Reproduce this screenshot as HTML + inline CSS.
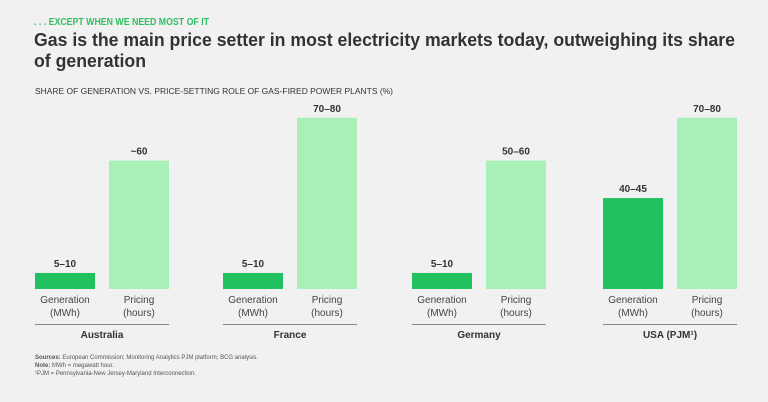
<!DOCTYPE html>
<html><head><meta charset="utf-8"><style>
html,body{margin:0;padding:0;background:#f2f1f1;}
svg{display:block;font-family:"Liberation Sans",sans-serif;}
</style></head><body>
<svg id="chart" width="768" height="402" viewBox="0 0 768 402" xmlns="http://www.w3.org/2000/svg">
<rect width="768" height="402" fill="#f2f1f1"/>
<text x="34" y="25" font-size="10" font-weight="bold" fill="#2fbf62" textLength="175" lengthAdjust="spacingAndGlyphs">. . . EXCEPT WHEN WE NEED MOST OF IT</text>
<text x="34" y="46" font-size="18.5" font-weight="bold" fill="#333" textLength="701" lengthAdjust="spacingAndGlyphs">Gas is the main price setter in most electricity markets today, outweighing its share</text>
<text x="34" y="67" font-size="18.5" font-weight="bold" fill="#333" textLength="112" lengthAdjust="spacingAndGlyphs">of generation</text>
<text x="35" y="94" font-size="8.6" fill="#333" textLength="358" lengthAdjust="spacingAndGlyphs">SHARE OF GENERATION VS. PRICE-SETTING ROLE OF GAS-FIRED POWER PLANTS (%)</text>
<g id="bars"></g>
<text x="35" y="359" font-size="6" fill="#555"><tspan font-weight="bold">Sources:</tspan> European Commission; Monitoring Analytics PJM platform; BCG analysis.</text>
<text x="35" y="367" font-size="6" fill="#555"><tspan font-weight="bold">Note:</tspan> MWh = megawatt hour.</text>
<text x="35" y="375" font-size="6" fill="#555">¹PJM = Pennsylvania-New Jersey-Maryland Interconnection.</text>
</svg>
<script>
const countries = ["Australia","France","Germany","USA (PJM¹)"];
const generation = [7.5, 7.5, 7.5, 42.5];
const pricing = [60, 80, 60, 80];
const genLabels = ["5–10","5–10","5–10","40–45"];
const priceLabels = ["~60","70–80","50–60","70–80"];

const NS="http://www.w3.org/2000/svg";
const g=document.getElementById("bars");
const base=289, scale=2.14;
const y=v=>base-v*scale;
const groupX=[35,223,412,603], barW=60, gap=14;
function el(tag,attrs,txt){const e=document.createElementNS(NS,tag);for(const k in attrs)e.setAttribute(k,attrs[k]);if(txt!==undefined)e.textContent=txt;g.appendChild(e);return e;}
countries.forEach((c,i)=>{
  const x0=groupX[i], x1=x0+barW+gap;
  const b1=el("rect",{x:x0,y:y(generation[i]),width:barW,height:base-y(generation[i]),fill:"#22c05e"});
  
  
  const b2=el("rect",{x:x1,y:y(pricing[i]),width:barW,height:base-y(pricing[i]),fill:"#a9efb8"});
  
  
  const t1=el("text",{x:x0+barW/2,y:y(generation[i])-6,"text-anchor":"middle","font-size":"10","font-weight":"bold",fill:"#333"},genLabels[i]);
  
  
  const t2=el("text",{x:x1+barW/2,y:y(pricing[i])-6,"text-anchor":"middle","font-size":"10","font-weight":"bold",fill:"#333"},priceLabels[i]);
  
  
  [["Generation","(MWh)",x0],["Pricing","(hours)",x1]].forEach(([a,b,x])=>{
    const l1=el("text",{x:x+barW/2,y:303,"text-anchor":"middle","font-size":"10",fill:"#444"},a);
    
    
    const l2=el("text",{x:x+barW/2,y:316,"text-anchor":"middle","font-size":"10",fill:"#444"},b);
    
    
  });
  const ln=el("line",{x1:x0,x2:x1+barW,y1:324.5,y2:324.5,stroke:"#888","stroke-width":"1"});
  
  
  const ct=el("text",{x:(x0+x1+barW)/2,y:338,"text-anchor":"middle","font-size":"10","font-weight":"bold",fill:"#333"},c);
  
  
});
</script>
</body></html>
